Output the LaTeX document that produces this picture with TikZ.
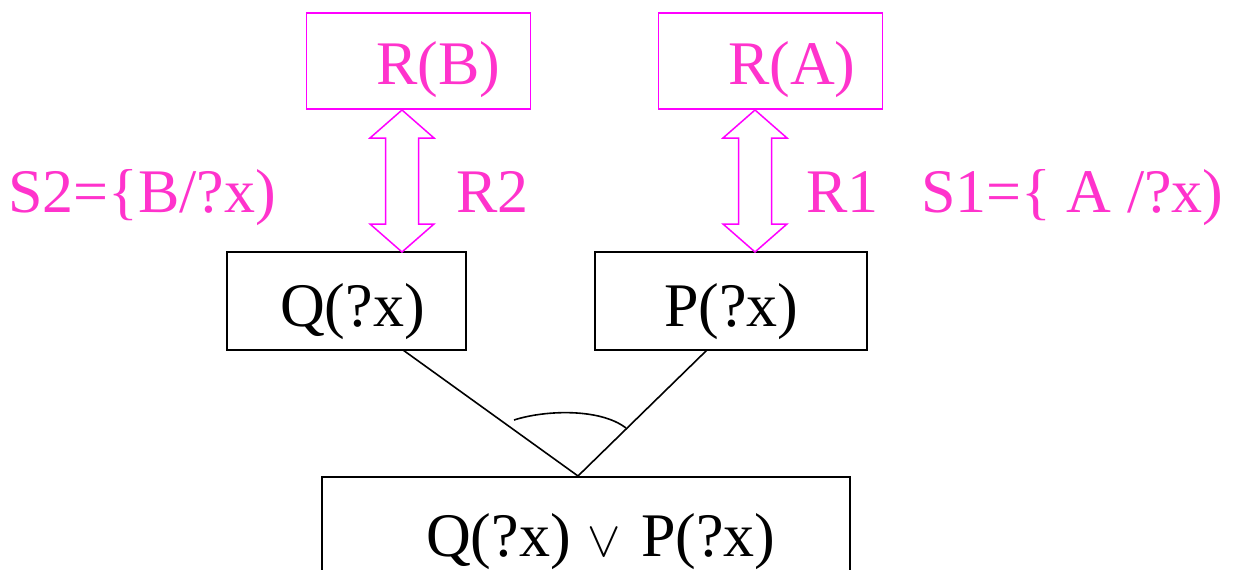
\RequirePackage{fix-cm}
\documentclass[tikz,border=0pt]{standalone}
\usepackage{fontspec}
\setmainfont{Liberation Serif}
\definecolor{pinktext}{RGB}{255,51,204}
\definecolor{magline}{RGB}{255,0,255}
\tikzset{
  x=1pt,y=-1pt,
  bigtext/.style={font=\fontsize{62}{70}\selectfont, inner sep=0pt, anchor=base west},
  pinklabel/.style={bigtext, text=pinktext},
  blacklabel/.style={bigtext, text=black},
  magbox/.style={draw=magline, line width=1.5pt, inner sep=0pt},
  blackbox/.style={draw=black, line width=1.6pt, inner sep=0pt},
  dblarrow/.style={draw=magline, line width=1.5pt, line join=miter},
  link/.style={draw=black, line width=1.6pt}
}
\newcommand{\dblarr}[3]{% cx, ytop, ybot
  \draw[dblarrow] (#1,#2) -- (#1+32,#2+28) -- (#1+16.5,#2+28) -- (#1+16.5,#3-28) -- (#1+32,#3-28) -- (#1,#3) -- (#1-32,#3-28) -- (#1-16.5,#3-28) -- (#1-16.5,#2+28) -- (#1-32,#2+28) -- cycle;}
\begin{document}
\begin{tikzpicture}
\useasboundingbox (0,0) rectangle (1243,570);
% boxes
\node[magbox, minimum width=224pt, minimum height=96pt] (rb) at (418.5,61) {};
\node[magbox, minimum width=224pt, minimum height=96pt] (ra) at (770.5,61) {};
\node[blackbox, minimum width=239pt, minimum height=98pt] (q) at (346.5,301) {};
\node[blackbox, minimum width=272pt, minimum height=98pt] (p) at (731,301) {};
\node[blackbox, minimum width=528pt, minimum height=124pt] (qp) at (586,539) {};
% texts
\node[pinklabel] (rbt) at (376,84) {R(B)};
\node[pinklabel] (rat) at (728,84) {R(A)};
\node[blacklabel] (qt) at (280,326) {Q(?x)};
\node[blacklabel] (pt) at (664,326) {P(?x)};
\node[blacklabel] (qpt) at (426,556) {Q(?x)\hspace{17pt}{\fontsize{50}{60}\selectfont$\vee$}\hspace{20pt}P(?x)};
\node[pinklabel] (s2) at (8,212) {S2=\{B/?x)};
\node[pinklabel] (r2) at (456,212) {R2};
\node[pinklabel] (r1) at (806,212) {R1};
\node[pinklabel] (s1) at (921,212) {S1=\{ A /?x)};
% double arrows
\dblarr{402}{110}{252}
\dblarr{755}{110}{252}
% links
\coordinate (apex) at (578,476);
\coordinate (qbot) at (403,350);
\coordinate (pbot) at (707,350);
\draw[link] (qbot) -- (apex) -- (pbot);
\coordinate (arcs) at (514,420);
\coordinate (arce) at (626,428);
\draw[link] (arcs) .. controls (545,410) and (600,408) .. (arce);
\end{tikzpicture}
\end{document}
